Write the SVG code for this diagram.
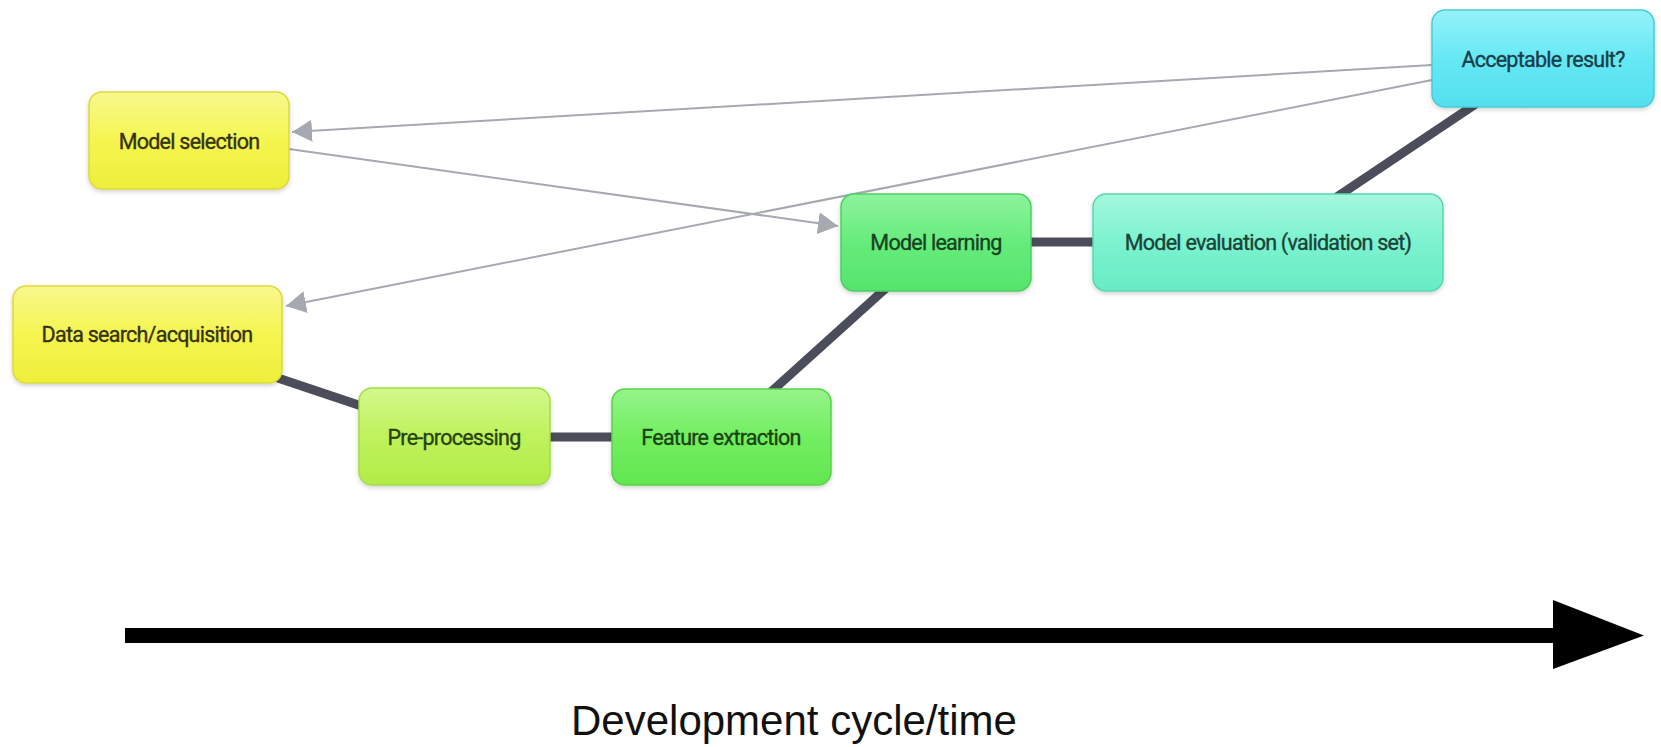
<svg xmlns="http://www.w3.org/2000/svg" width="1661" height="747" viewBox="0 0 1661 747">
  <style>
    .node rect { stroke-width: 1.5; rx: 13; ry: 13; filter: url(#shadow); }
    .node text { font-family: Roboto, "Liberation Sans", sans-serif; font-size: 21.5px; text-anchor: middle; letter-spacing: -0.75px; stroke-width: 0.35; }
    .flow { stroke: #4b4e5a; stroke-width: 9; stroke-linecap: butt; fill: none; }
    .loop { stroke: #a6a9b0; stroke-width: 2; fill: none; marker-end: url(#grayhead); }
    .axis-label { font-family: "Liberation Sans", Arial, sans-serif; font-size: 42px; fill: #111; }
  </style>
  <defs>
    <filter id="shadow" x="-10%" y="-10%" width="120%" height="130%">
      <feDropShadow dx="0" dy="2" stdDeviation="2" flood-color="#000" flood-opacity="0.18"/>
    </filter>
    <marker id="grayhead" markerUnits="userSpaceOnUse" markerWidth="22" markerHeight="24" refX="20" refY="12" orient="auto">
      <path d="M0,1 L20,12 L0,23 Z" fill="#a6a9b0"/>
    </marker>
    <linearGradient id="gYellow" x1="0" y1="0" x2="0" y2="1">
      <stop offset="0" stop-color="#f8f88e"/>
      <stop offset="0.5" stop-color="#f5f550"/>
      <stop offset="1" stop-color="#eeee3a"/>
    </linearGradient>
    <linearGradient id="gLime" x1="0" y1="0" x2="0" y2="1">
      <stop offset="0" stop-color="#d2f88c"/>
      <stop offset="0.5" stop-color="#bff25c"/>
      <stop offset="1" stop-color="#b2ec48"/>
    </linearGradient>
    <linearGradient id="gGreen" x1="0" y1="0" x2="0" y2="1">
      <stop offset="0" stop-color="#95f48a"/>
      <stop offset="0.5" stop-color="#72ee60"/>
      <stop offset="1" stop-color="#62e650"/>
    </linearGradient>
    <linearGradient id="gMint" x1="0" y1="0" x2="0" y2="1">
      <stop offset="0" stop-color="#8ef39c"/>
      <stop offset="0.5" stop-color="#66ec7c"/>
      <stop offset="1" stop-color="#56e46c"/>
    </linearGradient>
    <linearGradient id="gAqua" x1="0" y1="0" x2="0" y2="1">
      <stop offset="0" stop-color="#a4f8dc"/>
      <stop offset="0.5" stop-color="#7cf2cf"/>
      <stop offset="1" stop-color="#68ecc4"/>
    </linearGradient>
    <linearGradient id="gCyan" x1="0" y1="0" x2="0" y2="1">
      <stop offset="0" stop-color="#96f2fa"/>
      <stop offset="0.5" stop-color="#66e8f4"/>
      <stop offset="1" stop-color="#52e0ee"/>
    </linearGradient>
  </defs>

  <rect width="1661" height="747" fill="#ffffff"/>

  <!-- connectors -->
  <g id="connectors">
    <line class="flow" x1="147" y1="334" x2="454" y2="437"/>
    <line class="flow" x1="454" y1="437" x2="721" y2="437"/>
    <line class="flow" x1="721" y1="437" x2="936" y2="243"/>
    <line class="flow" x1="936" y1="242" x2="1268" y2="242" stroke-width="11"/>
    <line class="flow" x1="1268" y1="243" x2="1543" y2="59"/>
    <line class="loop" x1="1432" y1="65" x2="292" y2="132"/>
    <line class="loop" x1="1432" y1="80" x2="286" y2="306"/>
    <line class="loop" x1="289" y1="149" x2="838" y2="226"/>
  </g>

  <g id="model-selection" class="node">
    <rect x="89" y="92" width="200" height="97" fill="url(#gYellow)" stroke="#dada3c"/>
    <text x="189" y="149" fill="#33330f" stroke="#33330f">Model selection</text>
  </g>

  <g id="data-search" class="node">
    <rect x="13" y="286" width="269" height="97" fill="url(#gYellow)" stroke="#dada3c"/>
    <text x="147" y="342" fill="#33330f" stroke="#33330f">Data search/acquisition</text>
  </g>

  <g id="pre-processing" class="node">
    <rect x="359" y="388" width="191" height="97" fill="url(#gLime)" stroke="#a4dc48"/>
    <text x="454" y="445" fill="#27440e" stroke="#27440e">Pre-processing</text>
  </g>

  <g id="feature-extraction" class="node">
    <rect x="612" y="389" width="219" height="96" fill="url(#gGreen)" stroke="#58d24a"/>
    <text x="721" y="445" fill="#1b4414" stroke="#1b4414">Feature extraction</text>
  </g>

  <g id="model-learning" class="node">
    <rect x="841" y="194" width="190" height="97" fill="url(#gMint)" stroke="#4ccf60"/>
    <text x="936" y="250" fill="#174322" stroke="#174322">Model learning</text>
  </g>

  <g id="model-evaluation" class="node">
    <rect x="1093" y="194" width="350" height="97" fill="url(#gAqua)" stroke="#5ad6b2"/>
    <text x="1268" y="250" fill="#1a4338" stroke="#1a4338">Model evaluation (validation set)</text>
  </g>

  <g id="acceptable-result" class="node">
    <rect x="1432" y="10" width="222" height="97" fill="url(#gCyan)" stroke="#48ccd8"/>
    <text x="1543" y="67" fill="#193e48" stroke="#193e48">Acceptable result?</text>
  </g>

  <!-- time axis -->
  <g id="time-axis">
    <rect x="125" y="628" width="1430" height="15" fill="#000"/>
    <polygon points="1553,600 1644,635.5 1553,669" fill="#000"/>
    <text class="axis-label" x="571" y="735">Development cycle/time</text>
  </g>
</svg>
